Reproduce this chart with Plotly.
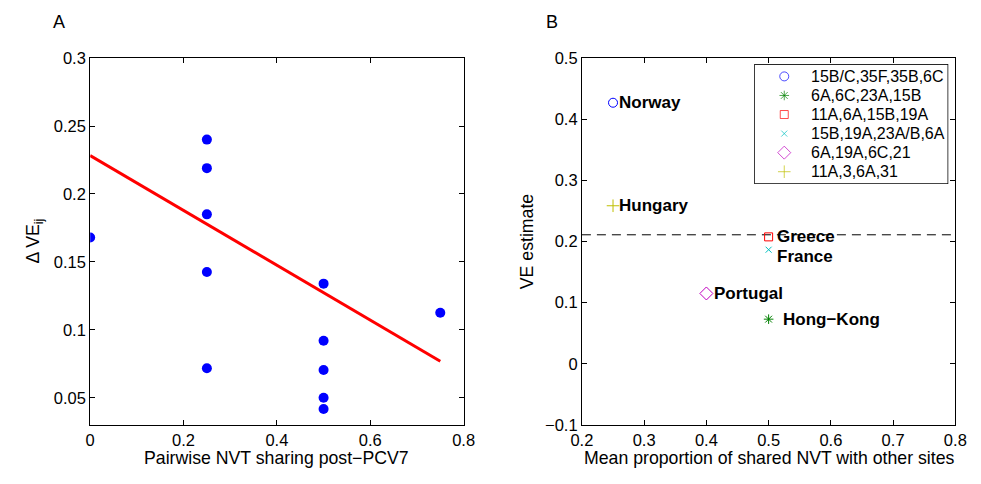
import plotly.graph_objects as go

# ---- Panel A data ----
share_pairwise = [0.0, 0.25, 0.25, 0.25, 0.25, 0.25, 0.5, 0.5, 0.5, 0.5, 0.5, 0.75]
delta_ve = [0.168, 0.240, 0.219, 0.185, 0.1425, 0.0717, 0.134, 0.092, 0.0705, 0.050, 0.0417, 0.1126]
fit_x = [0.0, 0.75]
fit_y = [0.2283, 0.0769]

# ---- Panel B data ----
countries = ["Norway", "Hong\u2212Kong", "Greece", "France", "Portugal", "Hungary"]
serotypes = ["15B/C,35F,35B,6C", "6A,6C,23A,15B", "11A,6A,15B,19A",
             "15B,19A,23A/B,6A", "6A,19A,6C,21", "11A,3,6A,31"]
mean_share = [0.25, 0.5, 0.5, 0.5, 0.4, 0.25]
ve_est = [0.427, 0.073, 0.2076, 0.1866, 0.115, 0.2585]
ve_overall = 0.211

symbols = ["circle-open", "asterisk-open", "square-open", "x-thin-open", "diamond-open", "cross-thin-open"]
colors = ["#0000ff", "#008000", "#ff0000", "#00bfbf", "#bf00bf", "#bfbf00"]
sizes = [9, 8, 8, 6, 10, 9]
label_xshift = [4, 12, 6, 6, 6, 4]
label_yshift = [0, 0, 0, -7, 0, 0]

FONT = "Liberation Sans, Arial, Helvetica, sans-serif"
W, H = 981, 484

fig = go.Figure()

fig.add_trace(go.Scatter(x=share_pairwise, y=delta_ve, mode="markers",
                         marker=dict(color="#0000ff", size=10),
                         showlegend=False, xaxis="x", yaxis="y"))
fig.add_trace(go.Scatter(x=fit_x, y=fit_y, mode="lines",
                         line=dict(color="#ff0000", width=3),
                         showlegend=False, xaxis="x", yaxis="y"))

fig.add_trace(go.Scatter(x=[0.2, 0.8], y=[ve_overall, ve_overall], mode="lines",
                         line=dict(color="black", width=1, dash="9px,6px"),
                         showlegend=False, xaxis="x2", yaxis="y2"))

for i in range(len(countries)):
    fig.add_trace(go.Scatter(x=[mean_share[i]], y=[ve_est[i]], mode="markers",
                             name=serotypes[i], showlegend=False,
                             marker=dict(symbol=symbols[i], color=colors[i], size=sizes[i],
                                         line=dict(color=colors[i], width=1)),
                             xaxis="x2", yaxis="y2"))

# ---- manual legend (box drawn on a hidden unit axis) ----
LEG_X0, LEG_X1, LEG_Y0, LEG_Y1 = 761, 958, 58, 181   # pixel box
leg_h = LEG_Y1 - LEG_Y0
leg_w = LEG_X1 - LEG_X0
n = len(serotypes)
row_y = [1 - (12 + 19.8 * i) / leg_h for i in range(n)]
mark_x = (791 - LEG_X0) / leg_w
text_x = (816 - LEG_X0) / leg_w

fig.add_trace(go.Scatter(x=[mark_x] * n, y=row_y, mode="markers", showlegend=False,
                         marker=dict(symbol=symbols, color=colors, size=sizes,
                                     line=dict(color=colors, width=1)),
                         hoverinfo="skip", xaxis="x3", yaxis="y3"))

annotations = []
for i in range(n):
    annotations.append(dict(x=text_x, y=row_y[i], xref="x3", yref="y3",
                            text=serotypes[i], showarrow=False,
                            xanchor="left", yanchor="middle",
                            font=dict(family=FONT, size=16, color="black")))

for i in range(len(countries)):
    annotations.append(dict(x=mean_share[i], y=ve_est[i], xref="x2", yref="y2",
                            text="<b>" + countries[i] + "</b>", showarrow=False,
                            xanchor="left", yanchor="middle",
                            xshift=label_xshift[i], yshift=label_yshift[i],
                            font=dict(family=FONT, size=17, color="black")))

# panel letters
annotations.append(dict(x=49 / W, y=1 - 13.5 / H, xref="paper", yref="paper", text="A",
                        showarrow=False, xanchor="center", yanchor="middle",
                        font=dict(family=FONT, size=18, color="black")))
annotations.append(dict(x=553 / W, y=1 - 13.5 / H, xref="paper", yref="paper", text="B",
                        showarrow=False, xanchor="center", yanchor="middle",
                        font=dict(family=FONT, size=18, color="black")))
# axis titles
annotations.append(dict(x=272 / W, y=1 - 466 / H, xref="paper", yref="paper",
                        text="Pairwise NVT sharing post\u2212PCV7", showarrow=False,
                        xanchor="center", yanchor="middle",
                        font=dict(family=FONT, size=17.7, color="black")))
annotations.append(dict(x=775 / W, y=1 - 466 / H, xref="paper", yref="paper",
                        text="Mean proportion of shared NVT with other sites", showarrow=False,
                        xanchor="center", yanchor="middle",
                        font=dict(family=FONT, size=17.7, color="black")))
annotations.append(dict(x=24 / W, y=1 - 241 / H, xref="paper", yref="paper",
                        text="\u0394 VE<sub>ij</sub>", showarrow=False, textangle=-90,
                        xanchor="center", yanchor="middle",
                        font=dict(family=FONT, size=17.7, color="black")))
annotations.append(dict(x=528 / W, y=1 - 241 / H, xref="paper", yref="paper",
                        text="VE estimate", showarrow=False, textangle=-90,
                        xanchor="center", yanchor="middle",
                        font=dict(family=FONT, size=17.7, color="black")))

axis_common = dict(showgrid=False, zeroline=False, showline=True, linecolor="black",
                   linewidth=1, mirror="allticks", ticks="inside", ticklen=5,
                   tickcolor="black", tickwidth=1,
                   tickfont=dict(family=FONT, size=16.5, color="black"))

top = 1 - 51 / H
bottom = 1 - 432 / H

fig.update_layout(
    width=W, height=H,
    margin=dict(l=0, r=0, t=0, b=0),
    paper_bgcolor="white", plot_bgcolor="white",
    font=dict(family=FONT, size=16, color="black"),
    xaxis=dict(domain=[81 / W, 463 / W], range=[0, 0.8],
               tickvals=[0, 0.2, 0.4, 0.6, 0.8], ticktext=["0", "0.2", "0.4", "0.6", "0.8"],
               anchor="y", **axis_common),
    yaxis=dict(domain=[bottom, top], range=[0.03, 0.3],
               tickvals=[0.05, 0.1, 0.15, 0.2, 0.25, 0.3],
               ticktext=["0.05", "0.1", "0.15", "0.2", "0.25", "0.3"],
               anchor="x", **axis_common),
    xaxis2=dict(domain=[584 / W, 966 / W], range=[0.2, 0.8],
                tickvals=[0.2, 0.3, 0.4, 0.5, 0.6, 0.7, 0.8],
                ticktext=["0.2", "0.3", "0.4", "0.5", "0.6", "0.7", "0.8"],
                anchor="y2", **axis_common),
    yaxis2=dict(domain=[bottom, top], range=[-0.1, 0.5],
                tickvals=[-0.1, 0, 0.1, 0.2, 0.3, 0.4, 0.5],
                ticktext=["\u22120.1", "0", "0.1", "0.2", "0.3", "0.4", "0.5"],
                anchor="x2", **axis_common),
    xaxis3=dict(domain=[LEG_X0 / W, LEG_X1 / W], range=[0, 1], visible=False,
                fixedrange=True, anchor="y3"),
    yaxis3=dict(domain=[1 - LEG_Y1 / H, 1 - LEG_Y0 / H], range=[0, 1], visible=False,
                fixedrange=True, anchor="x3"),
    shapes=[dict(type="rect", xref="x3 domain", yref="y3 domain", x0=0, x1=1, y0=0, y1=1,
                 line=dict(color="black", width=1.5), fillcolor="white", layer="below")],
    annotations=annotations,
    showlegend=False,
)

fig.write_html("out.html")
